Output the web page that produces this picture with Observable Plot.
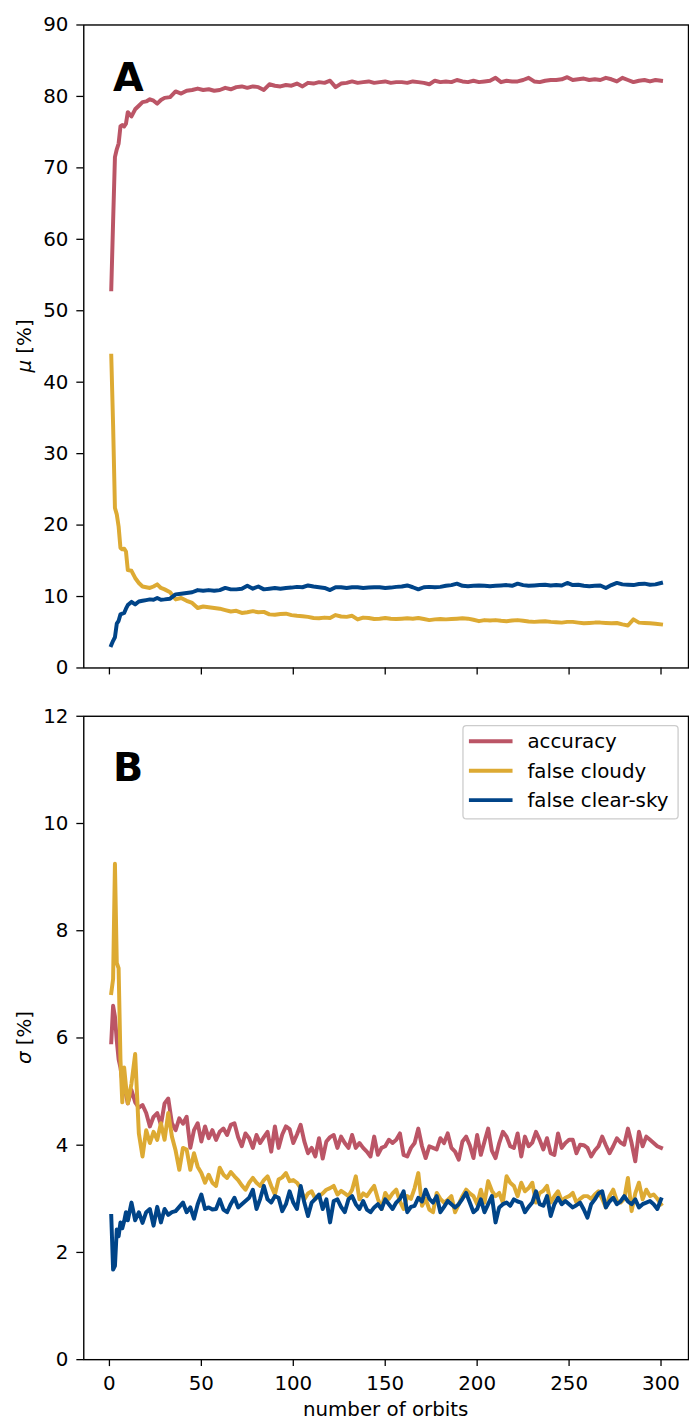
<!DOCTYPE html>
<html><head><meta charset="utf-8">
<script src="https://cdn.jsdelivr.net/npm/d3@7"></script>
<script src="https://cdn.jsdelivr.net/npm/@observablehq/plot@0.6"></script>
<style>
html,body{margin:0;padding:0;background:#fff;overflow:hidden;}
#wrap{position:relative;width:689px;height:1426px;overflow:hidden;background:#fff;}
#wrap svg{position:absolute;left:0;}
</style></head><body><div id="wrap"></div>
<script>
// ---------- data ----------
const seriesNames = ["accuracy", "false cloudy", "false clear-sky"];
const seriesColors = ["#BB5566", "#DDAA33", "#004488"];
const xTicks = [0, 50, 100, 150, 200, 250, 300];
const yTicksA = [0, 10, 20, 30, 40, 50, 60, 70, 80, 90];
const yTicksB = [0, 2, 4, 6, 8, 10, 12];

const orbitsA = [1,2,3,4,5,6,7,8,9,10,12,14,16,18,20,22,24,26,28,30,
33,36,39,42,45,48,51,54,57,60,63,66,69,72,75,78,81,84,87,90,
93,96,99,102,105,108,111,114,117,120,123,126,129,132,135,138,141,144,147,150,
153,156,159,162,165,168,171,174,177,180,183,186,189,192,195,198,201,204,207,210,
213,216,219,222,225,228,231,234,237,240,243,246,249,252,255,258,261,264,267,270,
273,276,279,282,285,288,291,294,297,300];

const accuracyMu = [53.0,62.5,71.5,72.6,73.4,75.8,76.0,75.8,76.2,77.8,
77.2,78.2,78.7,79.2,79.3,79.6,79.4,79.0,79.5,79.8,
79.9,80.7,80.4,80.8,80.9,81.1,80.9,81.0,80.8,80.9,
81.2,81.0,81.3,81.4,81.2,81.4,81.3,80.9,81.7,81.5,
81.4,81.6,81.5,81.8,81.4,81.9,81.8,82.0,81.9,82.2,
81.3,81.8,81.9,82.1,81.9,82.0,82.1,81.9,82.0,82.1,
81.9,82.0,82.0,81.9,82.1,82.0,81.9,81.7,82.2,82.0,
82.1,82.0,82.3,82.1,82.0,82.2,82.0,82.1,82.2,82.6,
82.0,82.2,82.1,82.1,82.3,82.6,82.1,82.0,82.2,82.3,
82.3,82.4,82.7,82.3,82.4,82.5,82.3,82.4,82.3,82.6,
82.4,82.1,82.6,82.3,82.0,82.2,82.3,82.1,82.3,82.2];

const falseCloudyMu = [43.7,34.0,22.4,21.5,19.8,16.8,16.6,16.7,16.3,13.7,
13.6,12.6,11.9,11.4,11.3,11.2,11.4,11.7,11.2,11.0,
10.6,9.6,9.8,9.4,9.1,8.4,8.6,8.5,8.4,8.3,
8.1,7.9,8.0,7.7,7.8,7.95,7.8,7.85,7.5,7.45,
7.55,7.6,7.4,7.3,7.25,7.15,7.0,6.95,7.05,7.0,
7.4,7.2,7.15,7.3,6.8,7.05,7.0,6.85,6.9,7.0,
6.9,6.85,6.9,6.95,6.9,7.0,6.85,6.7,6.8,6.85,
6.8,6.85,6.9,6.95,6.9,6.75,6.55,6.7,6.65,6.7,
6.6,6.55,6.65,6.7,6.6,6.5,6.45,6.5,6.55,6.45,
6.4,6.35,6.45,6.45,6.35,6.25,6.3,6.35,6.35,6.3,
6.25,6.3,6.1,5.95,6.8,6.35,6.3,6.25,6.2,6.1];

const falseClearMu = [3.2,3.8,4.3,6.2,6.6,7.5,7.6,7.7,8.3,8.8,
9.25,8.9,9.3,9.4,9.5,9.6,9.55,9.8,9.55,9.6,
9.7,10.3,10.4,10.5,10.6,10.9,10.8,10.9,10.8,10.9,
11.2,11.0,11.0,11.1,11.5,11.1,11.4,11.0,11.1,11.2,
11.1,11.2,11.25,11.35,11.3,11.55,11.4,11.3,11.2,10.9,
11.3,11.3,11.2,11.3,11.3,11.2,11.25,11.3,11.3,11.2,
11.25,11.35,11.4,11.55,11.3,11.0,11.3,11.35,11.3,11.35,
11.5,11.6,11.8,11.5,11.45,11.5,11.55,11.5,11.45,11.5,
11.55,11.6,11.5,11.8,11.6,11.5,11.55,11.6,11.65,11.55,
11.6,11.55,11.9,11.6,11.65,11.5,11.45,11.5,11.55,11.2,
11.6,11.9,11.7,11.65,11.6,11.75,11.8,11.65,11.7,11.9];

const orbitsB = [1,2,3,4,5,6,7,8,9,10,
12,14,16,18,20,22,24,26,28,30,32,34,36,38,40,42,44,46,48,50,
52,54,56,58,60,62,64,66,68,70,72,74,76,78,80,82,84,86,88,90,
92,94,96,98,100,102,104,106,108,110,112,114,116,118,120,122,124,126,128,130,
132,134,136,138,140,142,144,146,148,150,152,154,156,158,160,162,164,166,168,170,
172,174,176,178,180,182,184,186,188,190,192,194,196,198,200,202,204,206,208,210,
212,214,216,218,220,222,224,226,228,230,232,234,236,238,240,242,244,246,248,250,
252,254,256,258,260,262,264,266,268,270,272,274,276,278,280,282,284,286,288,290,
292,294,296,298,300];

const accuracySigma = [5.92,6.6,6.4,5.95,5.6,5.45,5.2,5.05,4.95,4.78,
5.03,4.8,4.7,4.75,4.6,4.35,4.53,4.6,4.38,4.78,
4.87,4.41,4.28,4.5,4.4,4.53,3.95,4.28,4.41,4.07,
4.35,4.13,4.28,4.1,4.25,4.31,4.19,4.38,4.41,4.15,
3.98,4.22,4.13,3.95,4.19,4.04,4.15,4.25,3.88,4.35,
3.95,4.2,4.35,4.3,4.04,4.2,4.38,4.07,3.85,3.95,
3.79,4.13,3.75,4.07,4.15,4.19,3.95,4.16,4.04,3.95,
4.19,3.95,4.04,3.95,3.88,3.79,4.16,3.82,3.95,3.98,
4.1,4.04,4.1,4.22,3.82,3.79,3.95,4.04,4.31,3.98,
3.76,3.98,3.95,3.92,4.13,4.04,4.22,3.95,3.88,3.73,
4.07,4.16,4.0,3.76,4.19,3.82,4.07,4.31,3.9,3.76,
4.04,4.25,4.16,3.98,3.95,4.22,3.79,4.16,3.98,4.05,
4.25,4.1,3.92,4.13,3.85,3.82,4.22,3.95,4.04,4.1,
4.1,3.85,4.01,4.0,3.95,3.79,3.9,3.98,4.16,4.0,
3.85,3.98,4.13,4.05,4.01,4.31,4.04,3.7,4.25,3.98,
4.16,4.1,4.04,3.98,3.95];

const falseCloudySigma = [6.84,7.1,9.25,7.4,7.3,5.6,4.8,5.45,5.1,4.78,
5.15,5.7,4.22,3.79,4.28,4.04,4.25,4.1,4.41,4.1,
4.6,4.16,3.9,3.54,3.95,3.92,3.54,3.85,3.6,3.48,
3.3,3.45,3.3,3.24,3.58,3.45,3.39,3.5,3.42,3.35,
3.25,3.17,3.3,3.39,3.3,3.24,3.35,3.42,3.24,3.08,
3.36,3.4,3.48,3.33,3.35,3.3,3.2,2.99,3.1,3.14,
3.0,3.05,3.1,3.17,3.2,3.24,3.08,3.15,3.1,3.05,
3.17,3.42,2.99,3.1,3.05,3.15,3.24,3.0,2.81,3.11,
3.0,3.1,3.17,2.95,2.81,3.05,3.0,3.2,3.48,2.87,
3.0,2.8,2.75,3.11,3.0,2.93,2.98,3.05,2.75,2.9,
3.05,3.17,3.1,3.05,2.9,3.17,2.93,3.33,3.15,3.05,
3.11,2.93,3.42,3.3,3.24,3.05,3.3,3.14,3.2,3.3,
2.93,3.11,3.15,3.24,2.93,3.05,3.14,2.96,3.02,3.05,
3.11,2.93,3.0,3.05,3.05,3.0,3.08,3.14,3.0,2.84,
3.05,3.17,2.96,2.93,3.0,3.39,2.77,3.1,3.3,2.99,
3.17,3.05,3.08,3.0,2.9];

const falseClearSigma = [2.68,1.68,1.75,2.43,2.3,2.56,2.45,2.58,2.75,2.6,
2.93,2.6,2.75,2.55,2.75,2.81,2.5,2.85,2.56,2.81,
2.7,2.75,2.77,2.85,2.93,2.75,2.84,2.63,2.9,3.08,
2.81,2.84,2.8,2.81,2.99,2.8,2.75,2.9,3.02,2.84,
2.9,2.96,3.02,3.17,2.81,3.0,3.24,2.99,2.93,3.05,
3.02,2.77,2.9,3.14,2.93,2.81,3.24,2.93,2.68,2.93,
3.0,3.08,2.81,2.99,2.56,2.96,2.99,2.85,2.75,2.99,
3.05,2.9,2.81,2.96,2.8,2.75,2.84,2.9,2.81,2.99,
2.9,2.81,2.93,3.0,3.14,2.75,2.85,2.87,3.02,2.95,
3.17,3.0,2.93,3.05,2.75,2.85,2.96,2.9,2.84,2.9,
3.0,3.11,2.93,2.75,2.81,2.99,2.75,2.9,3.05,2.56,
2.84,2.9,2.93,2.87,2.99,2.95,2.93,2.75,2.85,2.93,
3.14,2.9,2.87,3.05,2.68,2.9,3.02,2.9,2.96,2.9,
2.84,2.88,2.93,2.8,2.65,2.9,2.99,3.1,3.14,2.84,
2.95,3.02,2.9,2.95,3.05,2.95,2.9,2.99,2.84,2.9,
2.93,2.96,2.9,2.81,2.99];

// ---------- build ----------
function toRows(orbits, arrays) {
  const out = [];
  arrays.forEach((vals, k) => {
    if (vals.length !== orbits.length) console.error("length mismatch", seriesNames[k], vals.length, orbits.length);
    vals.forEach((v, i) => out.push({orbit: orbits[i], value: v, series: seriesNames[k]}));
  });
  return out;
}
const rowsA = toRows(orbitsA, [accuracyMu, falseCloudyMu, falseClearMu]);
const rowsB = toRows(orbitsB, [accuracySigma, falseCloudySigma, falseClearSigma]);

const FONT = "DejaVu Sans";
const FS = 20;
const LW = 4;
const W = 695, L = 84, R = 1;
const xDomain = [-13.95, 314.95];

function panel({rows, yDomain, yTicks, height, top, bottom, showXLabels}) {
  return Plot.plot({
    width: W, height,
    marginLeft: L, marginRight: R, marginTop: top, marginBottom: bottom,
    style: {fontFamily: FONT, fontSize: FS + "px", color: "black", background: "transparent", overflow: "visible"},
    x: {domain: xDomain},
    y: {domain: yDomain},
    color: {domain: seriesNames, range: seriesColors},
    marks: [
      Plot.line(rows, {x: "orbit", y: "value", z: "series", stroke: "series",
        strokeWidth: LW, strokeLinejoin: "round", strokeLinecap: "square"}),
      Plot.axisY({ticks: yTicks, tickSize: 7, tickPadding: 8.5, label: null, strokeWidth: 1.3, fontSize: FS}),
      showXLabels
        ? Plot.axisX({ticks: xTicks, tickSize: 7, tickPadding: 9, label: null, strokeWidth: 1.3, fontSize: FS})
        : Plot.axisX({ticks: xTicks, tickSize: 7, tickFormat: () => "", label: null, strokeWidth: 1.3}),
      Plot.frame({stroke: "black", strokeWidth: 1.4})
    ]
  });
}

const wrap = document.getElementById("wrap");

// Panel A: plot area y 24.7 .. 673.3
const svgA = panel({rows: rowsA, yDomain: [0, 90], yTicks: yTicksA, height: 690, top: 24.7, bottom: 16.7, showXLabels: false});
svgA.style.top = "0px";
wrap.appendChild(svgA);

// Panel B: SVG starts at 690; plot area 716 .. 1365
const svgB = panel({rows: rowsB, yDomain: [0, 12], yTicks: yTicksB, height: 736, top: 26, bottom: 61, showXLabels: true});
svgB.style.top = "690px";
wrap.appendChild(svgB);

function addText(svg, {x, y, text, size = FS, weight = "normal", anchor = "start", rotate = 0, italicFirst = null}) {
  const t = d3.select(svg).append("text")
    .attr("transform", `translate(${x},${y}) rotate(${rotate})`)
    .attr("text-anchor", anchor)
    .attr("font-family", FONT)
    .attr("font-size", size)
    .attr("font-weight", weight)
    .attr("fill", "black");
  if (italicFirst) {
    t.append("tspan").attr("font-style", "italic").text(italicFirst);
    t.append("tspan").text(text);
  } else t.text(text);
}

// panel letters
addText(svgA, {x: 114, y: 92, text: "A", size: 40, weight: "bold"});
addText(svgB, {x: 114, y: 92, text: "B", size: 40, weight: "bold"});
// y labels
addText(svgA, {x: 31, y: 349, text: " [%]", italicFirst: "μ", anchor: "middle", rotate: -90});
addText(svgB, {x: 31, y: 350.5, text: " [%]", italicFirst: "σ", anchor: "middle", rotate: -90});
// x label
addText(svgB, {x: 389, y: 732, text: "number of orbits", anchor: "middle"});

// legend in panel B
const lg = d3.select(svgB).append("g").attr("text-anchor", "start");
lg.append("rect").attr("x", 467).attr("y", 36).attr("width", 217).attr("height", 94)
  .attr("rx", 3.5).attr("fill", "white").attr("fill-opacity", 0.8)
  .attr("stroke", "#cccccc").attr("stroke-width", 1.3);
seriesNames.forEach((name, i) => {
  const cy = 51.7 + i * 29.7;
  lg.append("line").attr("x1", 473).attr("x2", 517).attr("y1", cy).attr("y2", cy)
    .attr("stroke", seriesColors[i]).attr("stroke-width", LW);
  lg.append("text").attr("x", 532).attr("y", cy + 7).attr("text-anchor", "start")
    .attr("font-family", FONT).attr("font-size", FS).attr("fill", "black").text(name);
});
</script>
</body></html>
